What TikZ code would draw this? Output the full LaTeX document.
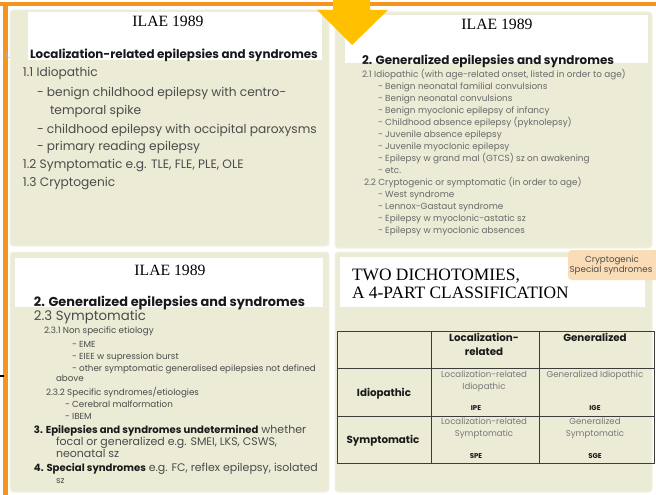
\documentclass[tikz,border=0pt]{standalone}
\usepackage{fontspec}
\setmainfont{Poppins}
\newfontfamily\serifface{Liberation Serif}

\definecolor{barorange}{RGB}{247,148,30}
\definecolor{arrowamber}{RGB}{255,192,0}
\definecolor{panelfill}{RGB}{236,235,214}
\definecolor{panelrim}{RGB}{244,244,230}
\definecolor{tagfill}{RGB}{250,221,182}
\definecolor{bodygray}{RGB}{75,75,75}
\definecolor{smallgray}{RGB}{105,105,105}
\definecolor{cellgray}{RGB}{120,120,120}
\definecolor{headblack}{RGB}{25,25,25}
\definecolor{gridline}{RGB}{60,60,60}

\newcommand{\boldlead}[1]{{\bfseries\color{headblack}\fontsize{10.1}{12}\selectfont #1}}

\tikzset{
  panel/.style={fill=panelfill, draw=panelrim, line width=1pt, rounded corners=3pt},
  titleband/.style={fill=white, draw=none},
  txt/.style={anchor=base west, inner sep=0pt, outer sep=0pt},
  ctxt/.style={anchor=base, inner sep=0pt, outer sep=0pt},
  ilae/.style={ctxt, text=black, font=\serifface\fontsize{15.7}{18}\selectfont},
  bigserif/.style={txt, text=black, font=\serifface\fontsize{17.4}{20}\selectfont},
  headA/.style={txt, text=headblack, font=\bfseries\fontsize{11.9}{13}\selectfont},
  bodyA/.style={txt, text=bodygray, font=\fontsize{12.2}{14}\selectfont},
  headB/.style={txt, text=headblack, font=\bfseries\fontsize{12}{13}\selectfont},
  smallB/.style={txt, text=smallgray, font=\fontsize{8.85}{10}\selectfont},
  headC/.style={txt, text=headblack, font=\bfseries\fontsize{12.9}{14}\selectfont},
  subC/.style={txt, text=bodygray, font=\fontsize{13.3}{14}\selectfont},
  midC/.style={txt, text=bodygray, font=\fontsize{11}{12}\selectfont},
  smallC/.style={txt, text=bodygray, font=\fontsize{8.75}{10}\selectfont},
  tagtxt/.style={ctxt, text=bodygray, font=\fontsize{8.7}{10}\selectfont},
  thead/.style={ctxt, text=headblack, font=\bfseries\fontsize{10.3}{12}\selectfont},
  tcell/.style={ctxt, text=cellgray, font=\fontsize{8.6}{10}\selectfont},
  tcode/.style={ctxt, text=headblack, font=\bfseries\fontsize{7}{9}\selectfont},
}

\begin{document}
\begin{tikzpicture}[x=1pt, y=-1pt]
\useasboundingbox (0,0) rectangle (656,495);
\fill[white] (0,0) rectangle (656,495);

% the four slide panels
\draw[panel] (10,10) rectangle (329,246);
\draw[panel] (335,12) rectangle (652,248);
\draw[panel] (10,252) rectangle (329,492);
\draw[panel] (335,252) rectangle (652,492);

% white title bands
\fill[titleband] (28,12) rectangle (322,60);
\fill[titleband] (345,15) rectangle (648,63);
\fill[titleband] (15,258) rectangle (323,307);
\fill[titleband] (340,257) rectangle (645,307);

% orange frame lines
\fill[barorange] (0,2.5) rectangle (656,6.5);
\fill[barorange] (3,2.5) rectangle (8,495);
\draw[black, line width=1.5pt] (0,376) -- (4,376);

% downward arrow
\fill[arrowamber] (333,0) -- (370,0) -- (370,10) -- (388,10) -- (352,45)
  -- (317,10) -- (333,10) -- cycle;

% ---- panel 1: localization-related
\node[ilae] (t1) at (168,27) {ILAE 1989};
\node[txt, text=gray!60, font=\fontsize{9}{10}\selectfont] (p1n) at (5,58.5) {1.};
\node[headA] (p1h) at (30,59) {Localization-related epilepsies and syndromes};
\node[bodyA] (p1a) at (23,77) {1.1 Idiopathic};
\node[bodyA] (p1b) at (37,96) {- benign childhood epilepsy with centro-};
\node[bodyA] (p1c) at (50,114) {temporal spike};
\node[bodyA] (p1d) at (37,133) {- childhood epilepsy with occipital paroxysms};
\node[bodyA] (p1e) at (37,150) {- primary reading epilepsy};
\node[bodyA] (p1f) at (23,168) {1.2 Symptomatic e.g. TLE, FLE, PLE, OLE};
\node[bodyA] (p1g) at (23,186) {1.3 Cryptogenic};

% ---- panel 2: generalized, idiopathic and cryptogenic
\node[ilae] (t2) at (497,30) {ILAE 1989};
\node[headB] (p2h) at (362,65) {2. Generalized epilepsies and syndromes};
\node[smallB] (p2a) at (362,77.8) {2.1 Idiopathic (with age-related onset, listed in order to age)};
\node[smallB] (p2b) at (378,89.5) {- Benign neonatal familial convulsions};
\node[smallB] (p2c) at (378,101.5) {- Benign neonatal convulsions};
\node[smallB] (p2d) at (378,113.5) {- Benign myoclonic epilepsy of infancy};
\node[smallB] (p2e) at (378,125.5) {- Childhood absence epilepsy (pyknolepsy)};
\node[smallB] (p2f) at (378,137.5) {- Juvenile absence epilepsy};
\node[smallB] (p2g) at (378,149.5) {- Juvenile myoclonic epilepsy};
\node[smallB] (p2i) at (378,161.5) {- Epilepsy w grand mal (GTCS) sz on awakening};
\node[smallB] (p2j) at (378,173.5) {- etc.};
\node[smallB] (p2k) at (364,185.5) {2.2 Cryptogenic or symptomatic (in order to age)};
\node[smallB] (p2l) at (378,197.5) {- West syndrome};
\node[smallB] (p2m) at (378,209.5) {- Lennox-Gastaut syndrome};
\node[smallB] (p2n) at (378,221.5) {- Epilepsy w myoclonic-astatic sz};
\node[smallB] (p2o) at (378,233.5) {- Epilepsy w myoclonic absences};

% ---- panel 3: symptomatic, undetermined, special
\node[ilae] (t3) at (170,275) {ILAE 1989};
\node[headC] (p3h) at (34,306) {2. Generalized epilepsies and syndromes};
\node[subC] (p3a) at (34,320.8) {2.3 Symptomatic};
\node[smallC] (p3b) at (44,333.8) {2.3.1 Non specific etiology};
\node[smallC] (p3c) at (72,347.8) {- EME};
\node[smallC] (p3d) at (72,359.8) {- EIEE w supression burst};
\node[smallC] (p3e) at (72,371.8) {- other symptomatic generalised epilepsies not defined};
\node[smallC] (p3f) at (56,381.8) {above};
\node[smallC] (p3g) at (46,395.8) {2.3.2 Specific syndromes/etiologies};
\node[smallC] (p3i) at (65,407.8) {- Cerebral malformation};
\node[smallC] (p3j) at (65,419.8) {- IBEM};
\node[midC] (p3k) at (34,433.7) {\boldlead{3. Epilepsies and syndromes undetermined} whether};
\node[midC] (p3l) at (56,445.7) {focal or generalized e.g. SMEI, LKS, CSWS,};
\node[midC] (p3m) at (56,457.7) {neonatal sz};
\node[midC] (p3n) at (34,471.7) {\boldlead{4. Special syndromes} e.g. FC, reflex epilepsy, isolated};
\node[smallC] (p3o) at (56,483.7) {sz};

% ---- panel 4: the 2x2 classification
\node[bigserif] (t4a) at (352,280) {TWO DICHOTOMIES,};
\node[bigserif] (t4b) at (352,298) {A 4-PART CLASSIFICATION};

\fill[tagfill, rounded corners=4pt] (568,250) rectangle (662,280);
\node[tagtxt] (tag1) at (612,262.5) {Cryptogenic};
\node[tagtxt] (tag2) at (611,272.5) {Special syndromes};

\draw[gridline, line width=1pt] (337,331) rectangle (654,463);
\draw[gridline, line width=1pt] (431,331) -- (431,463);
\draw[gridline, line width=1pt] (539,331) -- (539,463);
\draw[gridline, line width=1pt] (337,368) -- (654,368);
\draw[gridline, line width=1pt] (337,416) -- (654,416);

\node[thead] (hLoc1) at (484,341.5) {Localization-};
\node[thead] (hLoc2) at (484,355.5) {related};
\node[thead] (hGen) at (595,341.5) {Generalized};
\node[thead] (rIdio) at (384,396.5) {Idiopathic};
\node[thead] (rSymp) at (383,443.5) {Symptomatic};

\node[tcell] (c11a) at (484,377.5) {Localization-related};
\node[tcell] (c11b) at (484,389.5) {Idiopathic};
\node[tcode] (c11c) at (476,410.5) {IPE};
\node[tcell] (c12a) at (595,377.5) {Generalized Idiopathic};
\node[tcode] (c12c) at (595,410.5) {IGE};
\node[tcell] (c21a) at (484,424.5) {Localization-related};
\node[tcell] (c21b) at (484,436.5) {Symptomatic};
\node[tcode] (c21c) at (476,458.5) {SPE};
\node[tcell] (c22a) at (595,424.5) {Generalized};
\node[tcell] (c22b) at (595,436.5) {Symptomatic};
\node[tcode] (c22c) at (595,458.5) {SGE};
\end{tikzpicture}
\end{document}
